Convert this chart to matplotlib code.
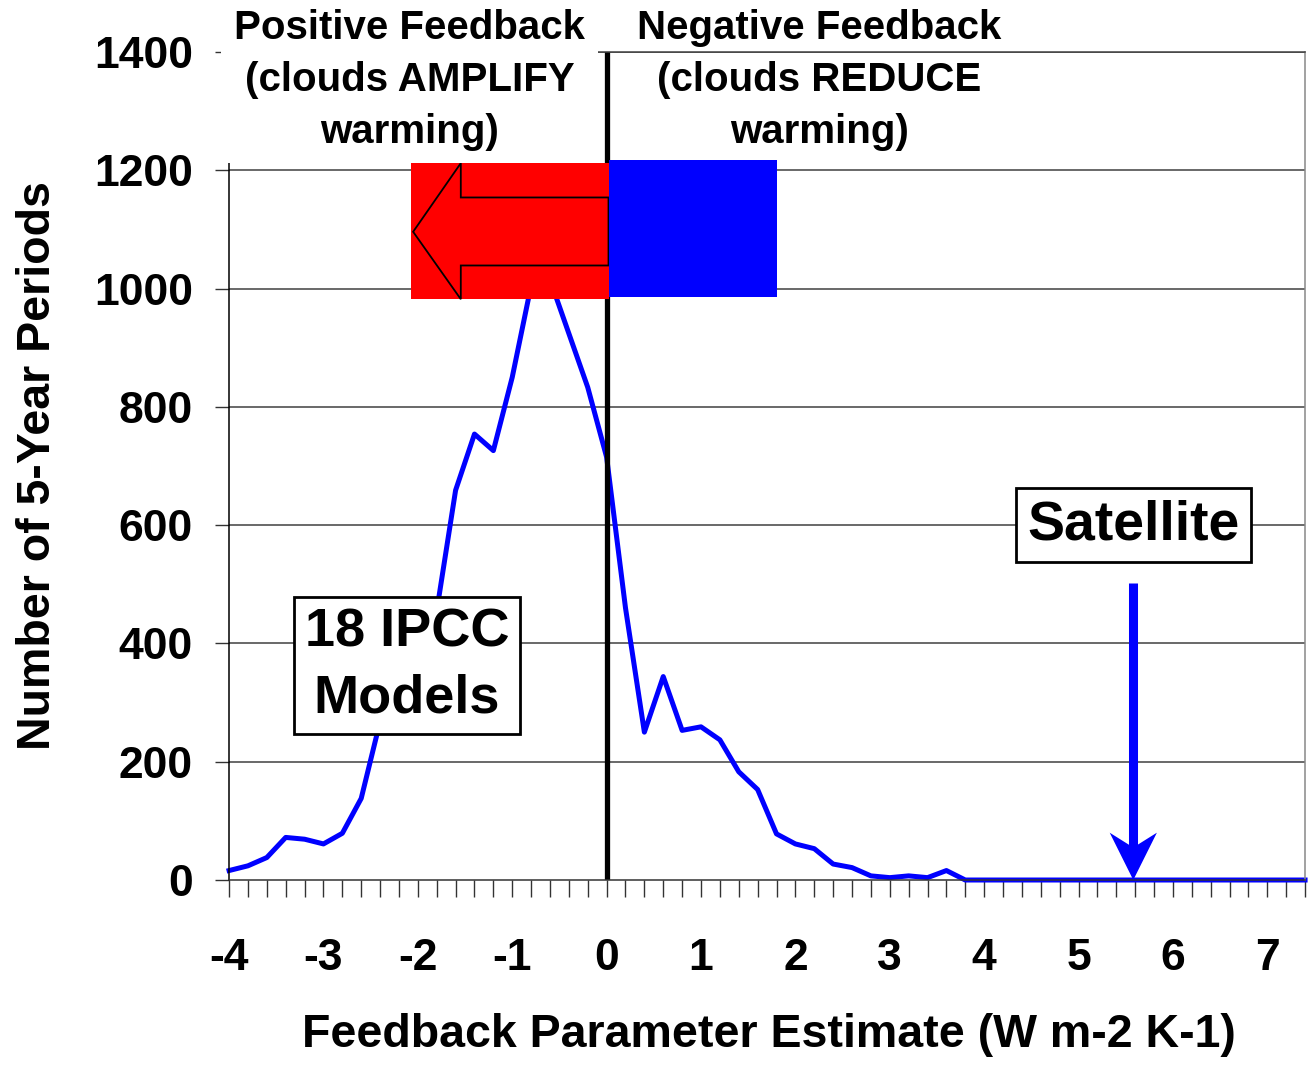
import numpy as np
import matplotlib.pyplot as plt
from matplotlib.patches import Rectangle, Polygon

plt.rcParams['font.family'] = ['Liberation Sans', 'DejaVu Sans']
plt.rcParams['font.weight'] = 'bold'
plt.rcParams['axes.unicode_minus'] = False

# 反馈参数 (W m-2 K-1)，步长 0.2
feedback = np.round(np.arange(-4.0, 7.41, 0.2), 1)
# 每个区间内的 5 年期数量
counts = [16, 24, 38, 72, 69, 61, 79, 138, 268, 340,
          400, 455, 659, 754, 726, 850, 1005, 1015, 924, 833,
          715, 460, 250, 344, 253, 259, 237, 183, 153, 78,
          61, 53, 27, 21, 7, 4, 7, 4, 16, 0]
counts = counts + [0] * (len(feedback) - len(counts))

y_ticks = [0, 200, 400, 600, 800, 1000, 1200, 1400]
x_ticks = [-4, -3, -2, -1, 0, 1, 2, 3, 4, 5, 6, 7]

satellite_x = 5.58

fig = plt.figure(figsize=(13.09, 10.65), dpi=100)
ax = fig.add_axes([0.175, 0.1737, 0.822, 0.7775])

# 网格线
for yv in y_ticks[1:]:
    ax.axhline(yv, color='#404040', lw=1.1, zorder=1)

# 模式分布曲线
ax.plot(feedback, counts, color='#0000ff', lw=3.6, zorder=2, clip_on=False)
# 零反馈分界线
ax.axvline(0, color='black', lw=3.8, zorder=2.3)

# 红色 / 蓝色 色块
ax.add_patch(Rectangle((-2.07, 982), 2.09, 230, fc='#ff0000', ec='none', zorder=4))
ax.add_patch(Rectangle((0.02, 985), 1.79, 232, fc='#0000ff', ec='none', zorder=4.5))
arrow_pts = [(-2.05, 1096), (-1.545, 1212), (-1.545, 1154), (0.02, 1154),
             (0.02, 1039), (-1.545, 1039), (-1.545, 982)]
ax.add_patch(Polygon(arrow_pts, closed=True, fc='#ff0000', ec='black', lw=1.3, zorder=4.2))

# 卫星观测箭头
ax.plot([satellite_x, satellite_x], [502, 50], color='#0000ff', lw=6.5,
        solid_capstyle='butt', zorder=3)
ax.add_patch(Polygon([(satellite_x, 0), (satellite_x - 0.25, 80), (satellite_x, 55),
                      (satellite_x + 0.25, 80)], closed=True, fc='#0000ff', ec='none',
                     zorder=3, clip_on=False))

# 文字标注
ax.text(-2.085, 1353, 'Positive Feedback\n(clouds AMPLIFY\nwarming)', ha='center',
        va='center', fontsize=29, fontweight='bold', linespacing=1.46, zorder=6,
        bbox=dict(boxstyle='square,pad=0.32', fc='white', ec='none'))
ax.text(2.254, 1353, 'Negative Feedback\n(clouds REDUCE\nwarming)', ha='center',
        va='center', fontsize=29, fontweight='bold', linespacing=1.46, zorder=6)
ax.text(satellite_x, 600, 'Satellite', ha='center', va='center', fontsize=40,
        fontweight='bold', zorder=6,
        bbox=dict(boxstyle='square,pad=0.2', fc='white', ec='black', lw=2))
ax.text(-2.116, 363, '18 IPCC\nModels', ha='center', va='center', fontsize=39,
        fontweight='bold', linespacing=1.4, zorder=6,
        bbox=dict(boxstyle='square,pad=0.2', fc='white', ec='black', lw=2))

# 坐标轴
ax.set_xlim(-4, 7.4)
ax.set_ylim(0, 1400)
ax.set_xticks(x_ticks)
ax.set_xticks(np.arange(-4, 7.41, 0.2), minor=True)
ax.set_yticks(y_ticks)
ax.tick_params(axis='x', which='both', direction='out', length=12, width=1,
               color='#333333', labelsize=32, pad=30)
ax.tick_params(axis='y', direction='out', length=10, width=1, color='#333333',
               labelsize=32, pad=16)
for lab in ax.get_xticklabels() + ax.get_yticklabels():
    lab.set_fontweight('bold')

ax.spines['left'].set_color('black')
ax.spines['bottom'].set_color('#333333')
ax.spines['right'].set_color('#888888')
ax.spines['top'].set_color('#404040')
for s in ax.spines.values():
    s.set_linewidth(1.1)

ax.set_xlabel('Feedback Parameter Estimate (W m-2 K-1)', fontsize=33.5,
              fontweight='bold', va='center')
ax.xaxis.set_label_coords(0.502, -0.187)
ax.set_ylabel('Number of 5-Year Periods', fontsize=33.5, fontweight='bold',
              va='center')
ax.yaxis.set_label_coords(-0.1775, 0.5)

fig.savefig('out.png', dpi=100)
